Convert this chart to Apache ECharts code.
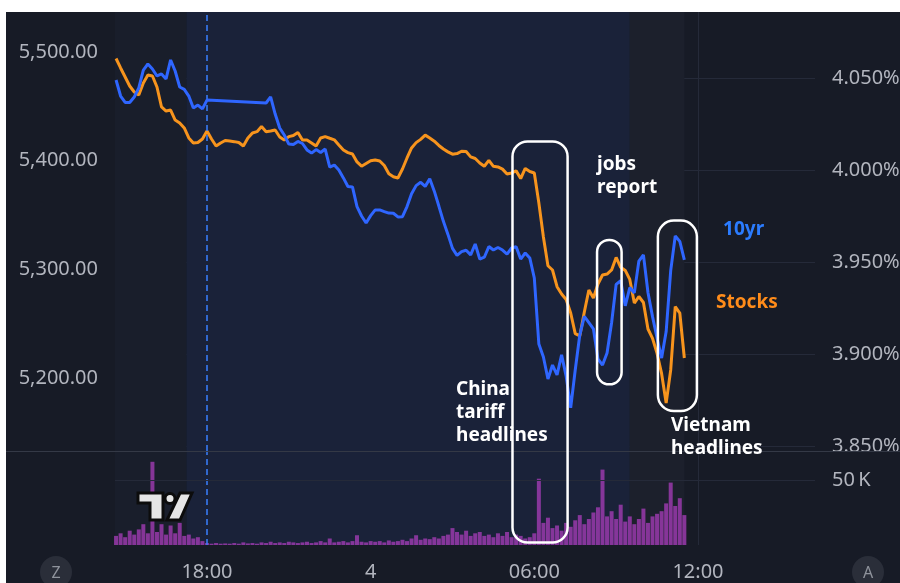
<!DOCTYPE html>
<html><head><meta charset="utf-8">
<script src="https://cdn.jsdelivr.net/npm/echarts@6/dist/echarts.min.js"></script>
<style>html,body{margin:0;padding:0;background:#fff;}#c{width:900px;height:583px;}</style>
</head><body><div id="c"></div>
<script>
// ---- data (10-minute samples starting 14:40 on day 3; hours counted from day-3 midnight) ----
const startHour = 14 + 40 / 60;
const stepHours = 1 / 6;
const dayOfStart = 3;

const stocks = [
 5494.0,5485.3,5477.0,5468.7,5463.2,5460.4,5471.5,5478.8,5477.9,5467.8,
 5449.4,5445.7,5446.6,5437.4,5434.7,5430.1,5420.9,5416.3,5416.7,5419.9,
 5427.3,5419.9,5413.5,5416.3,5418.6,5418.1,5417.5,5416.7,5413.5,5420.9,
 5425.5,5426.7,5431.4,5426.7,5427.3,5428.2,5421.8,5419.0,5422.1,5423.2,
 5425.9,5419.0,5419.0,5416.3,5413.5,5420.9,5422.1,5420.6,5419.2,5414.4,
 5409.8,5407.4,5406.1,5398.8,5394.9,5397.4,5399.9,5400.6,5399.7,5395.5,
 5387.9,5385.2,5384.1,5392.3,5402.5,5411.7,5416.6,5419.6,5423.5,5420.8,
 5417.9,5414.0,5410.7,5408.1,5406.0,5406.5,5408.7,5408.4,5403.5,5402.0,
 5397.9,5394.9,5400.3,5394.8,5394.2,5392.2,5387.7,5388.7,5390.6,5383.5,
 5392.8,5390.0,5388.7,5361.0,5329.8,5303.3,5299.4,5284.0,5277.3,5272.2,
 5259.8,5240.8,5238.7,5260.7,5281.0,5273.6,5286.5,5294.8,5295.7,5299.4,
 5310.9,5301.9,5299.0,5290.7,5269.0,5275.0,5269.5,5245.1,5236.5,5222.6,
 5204.0,5177.0,5207.4,5265.6,5259.8,5218.4
];
const yield10 = [
 4.0489,4.0402,4.0367,4.0367,4.0397,4.0446,4.0543,4.0576,4.0549,4.0511,
 4.0522,4.0495,4.0598,4.0538,4.0451,4.0438,4.0402,4.0337,4.0353,4.0332,
 4.0380,null,null,null,null,null,null,null,null,null,
 null,null,null,4.0364,4.0397,4.0304,4.0228,4.0190,4.0141,4.0139,
 4.0155,4.0144,4.0109,4.0092,4.0111,4.0095,4.0114,4.0016,4.0027,4.0000,
 3.9957,3.9910,3.9908,3.9801,3.9750,3.9712,3.9752,3.9783,3.9783,3.9774,
 3.9766,3.9765,3.9745,3.9746,3.9801,3.9871,3.9915,3.9933,3.9911,3.9952,
 3.9885,3.9804,3.9721,3.9650,3.9574,3.9536,3.9556,3.9564,3.9539,3.9598,
 3.9516,3.9526,3.9584,3.9565,3.9579,3.9565,3.9543,3.9576,3.9583,3.9516,
 3.9549,3.9522,3.9413,3.9054,3.8984,3.8864,3.8940,3.8886,3.8995,3.8880,
 3.8707,3.8913,3.9103,3.9204,3.9171,3.9137,3.8973,3.8940,3.9005,3.9170,
 3.9378,3.9398,3.9262,3.9361,3.9332,3.9505,3.9539,3.9334,3.9203,3.9087,
 3.8978,3.9122,3.9453,3.9641,3.9612,3.9511
];
const volumeK = [
 7,9,6,11,8,12,16,9,64,10,16,8,15,9,17,7,8,5,6,3,1.5,
 1,1.5,1,1.2,1,1.5,1,2,1.2,1.5,1,2,1.5,2.5,1.5,2,1.5,2.5,2,1.5,2,2.5,1.5,2,3,2,
 5,2,2.5,3,2,3,7.5,2.5,2,3,2.5,3,2,3.5,2.5,3,4,3,5,7.5,4,5,4.5,6,5,7,8,
 13,10,8,11,7,9,10,7,8,6,9,7,10,6,8,7,5,6,9,
 51,17,21,13,15,11,17,14,19,23,16,20,25,29,58,22,26,20,31,18,22,16,20,28,17,22,24,26,32,48,30,36,23
];
const timeTicks = [18, 24, 30, 36];
const stockTicks = [5200, 5300, 5400, 5500];
const yieldTicks = [3.85, 3.90, 3.95, 4.00, 4.05];
const volumeTicks = [50];
const markerTime = 18;
// session bands [start hour, end hour]
const preSession = [startHour - 0.04, 17.25];
const extSession = [17.25, 33.5];
const regSession = [33.5, 35.5];
// annotations in [hour, yield] coordinates
const boxCorners = [[29.2, 4.0155, 31.22, 3.7975], [32.3, 3.962, 33.2, 3.8835], [34.53, 3.9725, 35.96, 3.869]];
const noteTexts = ['China\ntariff\nheadlines', 'jobs\nreport', 'Vietnam\nheadlines'];
const noteAnchors = [[27.13, 3.8867], [32.3, 4.009], [35.01, 3.8671]];
const seriesLabels = ['10yr', 'Stocks'];
const seriesLabelAnchors = [[36.92, 3.9674], [36.66, 3.9277]];

// ---- axis extents ----
const xMin = 14.628, xMax = 40.29;
const stockMin = 5132.82, stockMax = 5536.81;
const yieldMin = 3.84728, yieldMax = 4.08587;
const volMax = 72.3;

const times = stocks.map((_, i) => startHour + i * stepHours);
const FONT = '"Noto Sans", "DejaVu Sans", sans-serif';
const BG = '#171b26';
const GRID = '#252a39';
const LABEL = '#b2b5be';

function fmtTime(v) {
  const h = Math.round(((v % 24) + 24) % 24);
  if (h === 0) return String(dayOfStart + Math.floor(v / 24));
  return String(h).padStart(2, '0') + ':00';
}
function fmtStock(v) {
  const n = Math.round(v);
  return Math.floor(n / 1000) + ',' + String(n % 1000).padStart(3, '0') + '.00';
}

const bandAreas = [
  [{ xAxis: preSession[0], itemStyle: { color: '#191e2b' } }, { xAxis: preSession[1] }],
  [{ xAxis: extSession[0], itemStyle: { color: '#1a2239' } }, { xAxis: extSession[1] }],
  [{ xAxis: regSession[0], itemStyle: { color: '#1c202c' } }, { xAxis: regSession[1] }]
];
const dashLine = {
  silent: true, symbol: 'none', label: { show: false },
  lineStyle: { color: '#3a80ff', type: [6, 4], width: 1.5 },
  data: [{ xAxis: markerTime }]
};

const chart = echarts.init(document.getElementById('c'), null, { renderer: 'canvas' });
const option = {
  animation: false,
  backgroundColor: BG,
  grid: [
    { left: 115, right: 85, top: 12, height: 439, outerBoundsMode: 'none' },
    { left: 115, right: 85, top: 451, height: 94, outerBoundsMode: 'none' }
  ],
  xAxis: [
    { type: 'value', gridIndex: 0, min: xMin, max: xMax,
      axisLine: { show: false }, axisLabel: { show: false },
      axisTick: { show: false, customValues: timeTicks },
      splitLine: { show: true, lineStyle: { color: GRID, width: 1 } } },
    { type: 'value', gridIndex: 1, min: xMin, max: xMax,
      axisLine: { show: false },
      axisTick: { show: false, customValues: timeTicks },
      axisLabel: { customValues: timeTicks, formatter: fmtTime, color: LABEL, fontFamily: FONT, fontSize: 20, margin: 17 },
      splitLine: { show: true, lineStyle: { color: GRID, width: 1 } } }
  ],
  yAxis: [
    { type: 'value', gridIndex: 0, position: 'left', min: stockMin, max: stockMax,
      axisLine: { show: false }, axisTick: { show: false, customValues: stockTicks },
      axisLabel: { customValues: stockTicks, formatter: fmtStock, color: LABEL, fontFamily: FONT, fontSize: 20, margin: 17 },
      splitLine: { show: false } },
    { type: 'value', gridIndex: 0, position: 'right', min: yieldMin, max: yieldMax,
      axisLine: { show: false }, axisTick: { show: false, customValues: yieldTicks },
      axisLabel: { customValues: yieldTicks, formatter: v => v.toFixed(3) + '%', color: LABEL, fontFamily: FONT, fontSize: 20, margin: 17 },
      splitLine: { show: true, lineStyle: { color: GRID, width: 1 } } },
    { type: 'value', gridIndex: 1, position: 'right', min: 0, max: volMax, z: 20,
      axisLine: { show: false }, axisTick: { show: false, customValues: volumeTicks },
      axisLabel: { customValues: volumeTicks, formatter: v => v + '\u2009K', color: LABEL, fontFamily: FONT, fontSize: 20, margin: 17 },
      splitLine: { show: true, lineStyle: { color: GRID, width: 1 } } }
  ],
  series: [
    { type: 'line', xAxisIndex: 0, yAxisIndex: 0, data: [], z: 1, silent: true,
      markArea: { silent: true, data: bandAreas }, markLine: dashLine },
    { type: 'line', xAxisIndex: 1, yAxisIndex: 2, data: [], z: 1, silent: true,
      markArea: { silent: true, data: bandAreas }, markLine: dashLine },
    { name: 'Volume', type: 'bar', xAxisIndex: 1, yAxisIndex: 2, z: 3,
      data: times.map((t, i) => [t, volumeK[i]]), barWidth: 4,
      itemStyle: { color: 'rgba(158,58,176,0.82)' } },
    { name: 'Stocks', type: 'line', xAxisIndex: 0, yAxisIndex: 0, z: 4,
      data: times.map((t, i) => [t, stocks[i]]), showSymbol: false,
      lineStyle: { color: '#f7941d', width: 3 } },
    { name: '10yr', type: 'line', xAxisIndex: 0, yAxisIndex: 1, z: 5, connectNulls: true,
      data: times.map((t, i) => [t, yield10[i]]), showSymbol: false,
      lineStyle: { color: '#2f66ff', width: 3 } }
  ]
};
chart.setOption(option);

function px(t, y) {
  return [chart.convertToPixel({ xAxisIndex: 0 }, t), chart.convertToPixel({ yAxisIndex: 1 }, y)];
}
const radii = [15, 12, 16];
const graphics = [];
// pane separator + clipping of price scale under the volume pane
graphics.push({ type: 'rect', z: 40, silent: true, shape: { x: 816, y: 451, width: 84, height: 17 }, style: { fill: BG } });
graphics.push({ type: 'line', z: 41, silent: true, shape: { x1: 6, y1: 451.5, x2: 900, y2: 451.5 }, style: { stroke: '#343946', lineWidth: 1 } });
boxCorners.forEach((b, i) => {
  const p0 = px(b[0], b[1]), p1 = px(b[2], b[3]);
  graphics.push({ type: 'rect', z: 50, silent: true,
    shape: { x: p0[0], y: p0[1], width: p1[0] - p0[0], height: p1[1] - p0[1], r: radii[i] },
    style: { fill: null, stroke: '#ffffff', lineWidth: 2.5 } });
});
noteTexts.forEach((s, i) => {
  const p = px(noteAnchors[i][0], noteAnchors[i][1]);
  graphics.push({ type: 'text', z: 51, silent: true, x: p[0], y: p[1],
    style: { text: s, fill: '#ffffff', font: 'bold 19px ' + FONT, lineHeight: 23, verticalAlign: 'top', align: 'left' } });
});
const labelColors = ['#2b7cff', '#ff8c1a'];
seriesLabels.forEach((s, i) => {
  const p = px(seriesLabelAnchors[i][0], seriesLabelAnchors[i][1]);
  graphics.push({ type: 'text', z: 51, silent: true, x: p[0], y: p[1],
    style: { text: s, fill: labelColors[i], font: 'bold 19px ' + FONT, verticalAlign: 'middle', align: 'left' } });
});
// corner buttons
[[56, 572, 'Z'], [868, 572, 'A']].forEach(c => {
  graphics.push({ type: 'circle', z: 42, silent: true, shape: { cx: c[0], cy: c[1], r: 16 }, style: { fill: '#2a2e39' } });
  graphics.push({ type: 'text', z: 43, silent: true, x: c[0], y: c[1] + 1,
    style: { text: c[2], fill: '#8f939c', font: '16px ' + FONT, align: 'center', verticalAlign: 'middle' } });
});
// logo
const logoStyle = { fill: '#e6e6e6', stroke: '#0c0c0c', lineWidth: 3, lineJoin: 'miter' };
graphics.push({ type: 'polygon', z: 44, silent: true,
  shape: { points: [[138, 493], [163, 493], [163, 520], [150, 520], [150, 503], [138, 503]] }, style: logoStyle });
graphics.push({ type: 'circle', z: 44, silent: true, shape: { cx: 170, cy: 498.5, r: 5 }, style: logoStyle });
graphics.push({ type: 'polygon', z: 44, silent: true,
  shape: { points: [[167, 520], [180, 520], [192, 493], [180, 493]] }, style: logoStyle });
// page margin
graphics.push({ type: 'rect', z: 100, silent: true, shape: { x: 0, y: 0, width: 900, height: 12 }, style: { fill: '#ffffff' } });
graphics.push({ type: 'rect', z: 100, silent: true, shape: { x: 0, y: 0, width: 6, height: 583 }, style: { fill: '#ffffff' } });
chart.setOption({ graphic: { elements: graphics } });
</script>
</body></html>
